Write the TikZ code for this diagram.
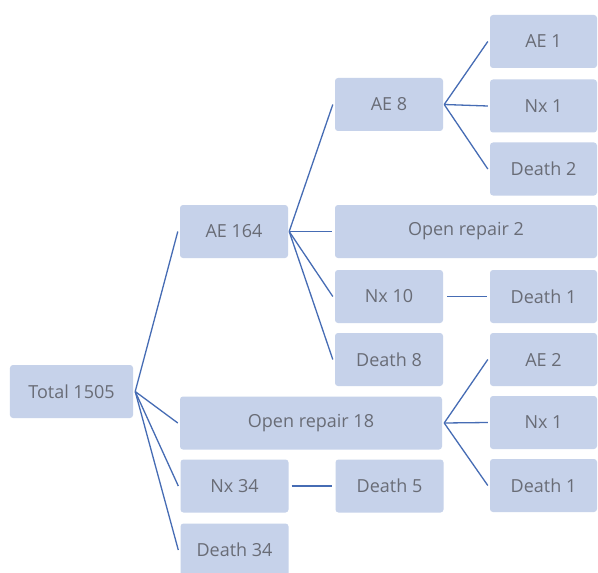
\documentclass[tikz,border=0pt]{standalone}
\usepackage{fontspec}
\setmainfont{Open Sans}
\definecolor{boxfill}{RGB}{198,210,234}
\definecolor{boxtext}{RGB}{105,108,118}
\definecolor{linecol}{RGB}{70,108,180}
\begin{document}
\begin{tikzpicture}[x=1bp,y=-1bp,
  bx/.style={fill=boxfill, rounded corners=3bp, minimum height=53bp, inner sep=0pt,
    text=boxtext, font=\fontsize{18bp}{21bp}\selectfont},
  nw/.style={bx, minimum width=108bp},
  ww/.style={bx, minimum width=262bp},
  conn/.style={draw=linecol, line width=1.3bp}]
\clip (0,0) rectangle (598,573);
\fill[white] (0,0) rectangle (598,573);
% level 0
\node[bx, minimum width=123bp] (total) at (71.5,391.5) {Total 1505};
% level 1
\node[nw] (ae164) at (234,231.5) {AE 164};
\node[ww] (or18) at (311,423) {Open repair 18};
\node[nw] (nx34) at (234.5,486) {Nx 34};
\node[nw] (d34) at (234.5,550) {Death 34};
% level 2
\node[nw] (ae8) at (389,104.5) {AE 8};
\node[ww] (or2) at (466,231.5) {Open repair 2};
\node[nw] (nx10) at (389,296.5) {Nx 10};
\node[nw] (d8) at (389,359.5) {Death 8};
\node[nw] (d5) at (389.5,486) {Death 5};
% level 3
\node[nw, minimum width=107bp] (ae1) at (543.5,41.5) {AE 1};
\node[nw, minimum width=107bp] (nx1a) at (543.5,106) {Nx 1};
\node[nw, minimum width=107bp] (d2) at (543.5,169) {Death 2};
\node[nw, minimum width=107bp] (d1a) at (543.5,296.5) {Death 1};
\node[nw, minimum width=107bp] (ae2) at (543.5,359.5) {AE 2};
\node[nw, minimum width=107bp] (nx1b) at (543.5,422.5) {Nx 1};
\node[nw, minimum width=107bp] (d1b) at (543.5,485.5) {Death 1};
% connectors
\foreach \t in {ae164,or18,nx34,d34}
  \draw[conn] ([xshift=2bp]total.east) -- ([xshift=-2bp]\t.west);
\foreach \t in {ae8,nx10,d8}
  \draw[conn] ([xshift=1bp]ae164.east) -- ([xshift=-2bp]\t.west);
\draw[conn] ([xshift=2bp]ae164.east) -- ([xshift=-3bp]or2.west);
\foreach \t in {ae1,nx1a,d2}
  \draw[conn] ([xshift=1bp]ae8.east) -- ([xshift=-2bp]\t.west);
\foreach \t in {ae2,nx1b,d1b}
  \draw[conn] ([xshift=2bp]or18.east) -- ([xshift=-2bp]\t.west);
\draw[conn] ([xshift=4bp]nx10.east) -- ([xshift=-3bp]d1a.west);
\draw[conn] ([xshift=3bp]nx34.east) -- ([xshift=-3bp]d5.west);
\end{tikzpicture}
\end{document}
